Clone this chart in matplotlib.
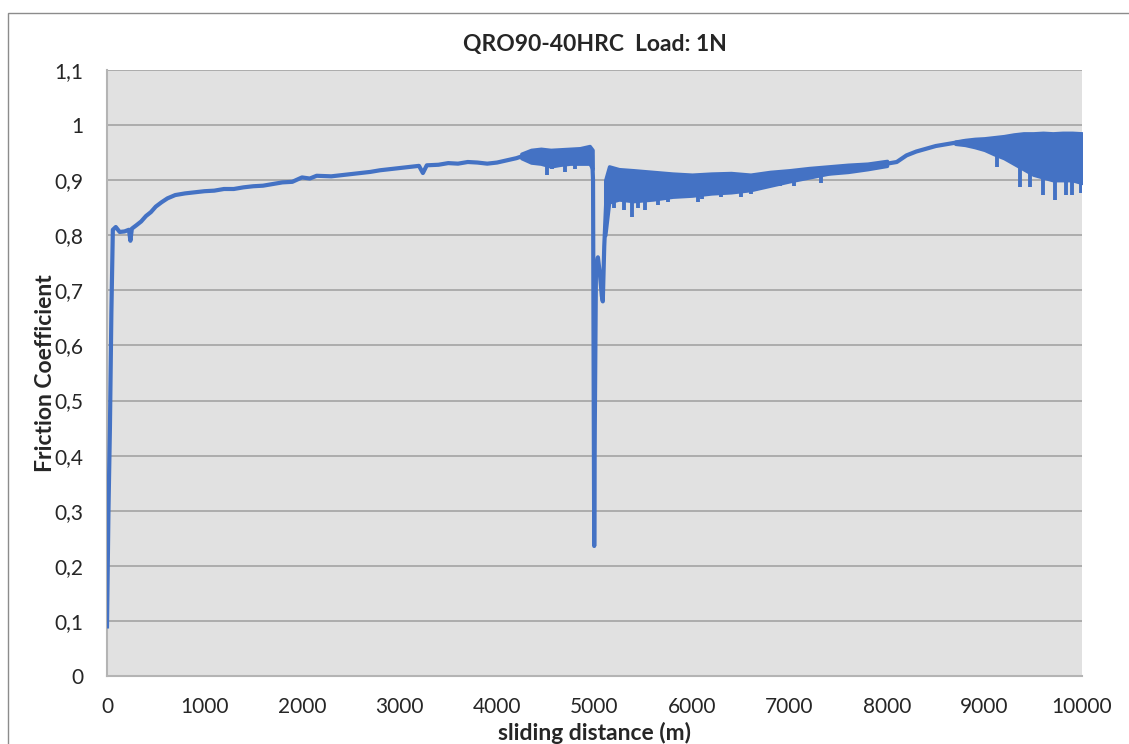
import matplotlib.pyplot as plt
from matplotlib.patches import Rectangle

# friction trace: sliding distance (m) vs friction coefficient
dist = [0, 15, 30, 45, 60, 90, 130, 180, 225, 240, 255, 300, 350, 400, 450, 500,
        560, 620, 700, 800, 900, 1000, 1100, 1200, 1300, 1400, 1500, 1600, 1700,
        1800, 1900, 2000, 2080, 2150, 2300, 2400, 2500, 2600, 2700, 2800, 2900,
        3000, 3100, 3200, 3240, 3280, 3400, 3500, 3600, 3700, 3800, 3900, 4000,
        4100, 4200, 4300, 4500, 4700, 4900, 4950, 4975, 4985, 4992, 4997, 5003,
        5015, 5035, 5055, 5075, 5085, 5100, 5120, 5150, 5300, 5500, 6000, 6500,
        7000, 7300, 7500, 8000, 8100, 8200, 8300, 8400, 8500, 8600, 8700, 8800,
        8900, 9000, 9200, 9500, 9800, 10000]
mu = [0.09, 0.30, 0.45, 0.66, 0.81, 0.815, 0.806, 0.807, 0.81, 0.79, 0.812, 0.818,
      0.825, 0.835, 0.842, 0.852, 0.86, 0.867, 0.873, 0.876, 0.878, 0.88, 0.881,
      0.884, 0.884, 0.887, 0.889, 0.89, 0.893, 0.896, 0.897, 0.905, 0.903, 0.908,
      0.907, 0.909, 0.911, 0.913, 0.915, 0.918, 0.92, 0.922, 0.924, 0.926, 0.913,
      0.927, 0.928, 0.931, 0.93, 0.933, 0.932, 0.93, 0.932, 0.936, 0.94, 0.946,
      0.946, 0.945, 0.948, 0.952, 0.945, 0.9, 0.5, 0.236, 0.45, 0.74, 0.76, 0.73,
      0.69, 0.68, 0.78, 0.86, 0.89, 0.895, 0.895, 0.893, 0.897, 0.905, 0.91,
      0.915, 0.93, 0.933, 0.945, 0.952, 0.957, 0.962, 0.965, 0.968, 0.97, 0.968,
      0.962, 0.955, 0.945, 0.94, 0.94]

# noisy stretches: upper / lower envelope
band_a_x = [4250, 4350, 4450, 4550, 4650, 4750, 4850, 4950, 4980]
band_a_hi = [0.948, 0.955, 0.957, 0.955, 0.956, 0.957, 0.958, 0.962, 0.955]
band_a_lo = [0.94, 0.932, 0.93, 0.925, 0.928, 0.93, 0.93, 0.93, 0.92]

band_b_x = [5110, 5150, 5250, 5400, 5600, 5800, 6000, 6200, 6400, 6600, 6800,
            7000, 7200, 7400, 7600, 7800, 8000]
band_b_hi = [0.90, 0.925, 0.92, 0.918, 0.915, 0.912, 0.91, 0.912, 0.913, 0.91,
             0.915, 0.918, 0.922, 0.925, 0.928, 0.93, 0.935]
band_b_lo = [0.80, 0.86, 0.865, 0.862, 0.865, 0.87, 0.872, 0.876, 0.878, 0.882,
             0.89, 0.898, 0.905, 0.912, 0.915, 0.92, 0.926]

band_c_x = [8700, 8800, 8900, 9000, 9100, 9200, 9300, 9400, 9500, 9600, 9700,
            9800, 9900, 10000]
band_c_hi = [0.97, 0.973, 0.975, 0.976, 0.978, 0.98, 0.983, 0.985, 0.985,
             0.986, 0.985, 0.986, 0.986, 0.985]
band_c_lo = [0.966, 0.964, 0.96, 0.955, 0.947, 0.94, 0.93, 0.92, 0.91, 0.905,
             0.9, 0.9, 0.9, 0.895]

# downward spikes
spike_x = [4510, 4560, 4700, 4800, 5200, 5300, 5385, 5450, 5520, 5650, 5750,
           6060, 6100, 6300, 6500, 6600, 6900, 7050, 7320, 9130, 9365, 9470,
           9600, 9720, 9840, 9900, 9990]
spike_lo = [0.909, 0.92, 0.915, 0.92, 0.85, 0.845, 0.833, 0.85, 0.845, 0.855,
            0.86, 0.86, 0.865, 0.87, 0.87, 0.875, 0.89, 0.89, 0.895, 0.924,
            0.888, 0.888, 0.873, 0.864, 0.873, 0.873, 0.877]
spike_hi = [0.94, 0.94, 0.94, 0.94, 0.88, 0.88, 0.88, 0.88, 0.88, 0.88, 0.88,
            0.89, 0.89, 0.89, 0.89, 0.89, 0.905, 0.905, 0.92, 0.95, 0.93, 0.93,
            0.91, 0.91, 0.91, 0.91, 0.91]

yticks = [0, 0.1, 0.2, 0.3, 0.4, 0.5, 0.6, 0.7, 0.8, 0.9, 1.0, 1.1]
ytick_labels = ["0", "0,1", "0,2", "0,3", "0,4", "0,5", "0,6", "0,7", "0,8",
                "0,9", "1", "1,1"]
xticks = [0, 1000, 2000, 3000, 4000, 5000, 6000, 7000, 8000, 9000, 10000]

blue = "#4472C4"
text_col = "#262626"
plt.rcParams["font.family"] = ["Lato", "DejaVu Sans"]

fig = plt.figure(figsize=(11.29, 7.44), dpi=100)
fig.patches.append(Rectangle((8 / 1129, -0.1), 1.2, 1 - 13 / 744 + 0.1,
                             transform=fig.transFigure, fill=False,
                             edgecolor="#8C8C8C", linewidth=1))
ax = fig.add_axes([107 / 1129, 68 / 744, 975 / 1129, 606 / 744])
ax.set_facecolor("#E1E1E1")

ax.plot(dist, mu, color=blue, linewidth=3.0, solid_joinstyle="round", zorder=3)
for bx, bhi, blo in [(band_a_x, band_a_hi, band_a_lo),
                     (band_b_x, band_b_hi, band_b_lo),
                     (band_c_x, band_c_hi, band_c_lo)]:
    ax.fill_between(bx, blo, bhi, color=blue, linewidth=2.5, edgecolor=blue,
                    zorder=3)
ax.vlines(spike_x, spike_lo, spike_hi, color=blue, linewidth=2.8, zorder=3)

ax.set_xlim(0, 10000)
ax.set_ylim(0, 1.1)
ax.set_yticks(yticks)
ax.set_yticklabels(ytick_labels)
ax.set_xticks(xticks)
ax.tick_params(length=0, labelsize=15, colors=text_col)
ax.tick_params(axis="y", pad=17)
ax.tick_params(axis="x", pad=15)
ax.grid(axis="y", color="#A3A3A3", linewidth=1.2, zorder=1)
ax.set_axisbelow(True)
for side in ["top", "right"]:
    ax.spines[side].set_visible(False)
for side in ["left", "bottom"]:
    ax.spines[side].set_color("#B4B4B4")
    ax.spines[side].set_linewidth(1.5)

ax.set_title("QRO90-40HRC  Load: 1N", fontsize=16.5, fontweight="bold",
             color=text_col, pad=14)
ax.set_ylabel("Friction Coefficient", fontsize=16.5, fontweight="bold",
              color=text_col, labelpad=-1)
ax.set_xlabel("sliding distance (m)", fontsize=16.5, fontweight="bold",
              color=text_col, labelpad=4)

fig.savefig("out.png", dpi=100)
